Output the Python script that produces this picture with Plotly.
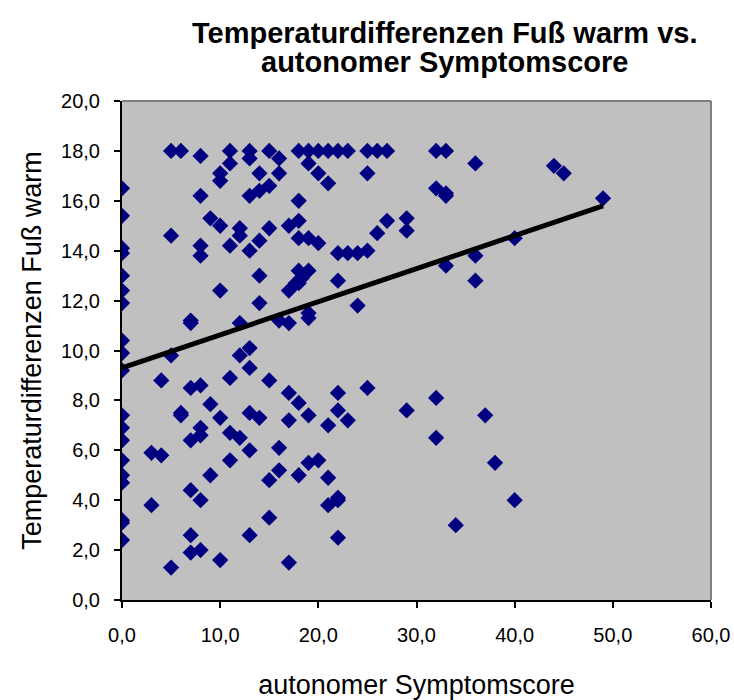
import plotly.graph_objects as go

# autonomer Symptomscore (x) and Temperaturdifferenzen Fuß warm (y)
score = (
    [0]*19 + [3]*2 + [4]*2 + [5]*4 + [6]*3 + [7]*7 + [8]*9 + [9]*3 + [10]*6 +
    [11]*6 + [12]*5 + [13]*9 + [14]*6 + [15]*6 + [16]*5 + [17]*6 + [18]*8 +
    [18.3, 17.7] + [19]*8 + [20]*4 + [21]*5 + [22]*8 + [23]*3 + [24]*2 +
    [25]*4 + [26]*2 + [27]*2 + [29]*3 + [32]*4 + [33]*4 + [34] + [36]*3 +
    [37] + [38] + [40]*2 + [44] + [45] + [49]
)
temp_diff = (
    [16.5, 15.4, 14.1, 13.9, 13.0, 12.4, 11.9, 10.4, 9.9, 9.2, 7.4, 6.9, 6.4, 5.6, 5.0, 4.7, 3.2, 3.1, 2.4]
    + [5.9, 3.8]
    + [8.8, 5.8]
    + [18.0, 14.6, 9.8, 1.3]
    + [18.0, 7.5, 7.4]
    + [11.2, 11.1, 8.5, 6.4, 4.4, 2.6, 1.9]
    + [17.8, 16.2, 14.2, 13.8, 8.6, 6.9, 6.6, 4.0, 2.0]
    + [15.3, 7.85, 5.0]
    + [17.1, 16.8, 15.0, 12.4, 7.3, 1.6]
    + [18.0, 17.5, 14.2, 8.9, 6.7, 5.6]
    + [14.9, 14.6, 11.1, 9.8, 6.5]
    + [18.0, 17.7, 16.2, 14.0, 10.1, 9.3, 7.5, 6.0, 2.6]
    + [17.1, 16.4, 14.4, 13.0, 11.9, 7.3]
    + [18.0, 16.6, 14.9, 8.8, 4.8, 3.3]
    + [17.7, 17.1, 11.2, 6.1, 5.2]
    + [15.0, 12.4, 11.1, 8.3, 7.2, 1.5]
    + [18.0, 16.0, 15.2, 14.5, 13.2, 7.9, 5.0, 12.7]
    + [12.9, 12.7]
    + [18.0, 17.5, 14.5, 13.2, 11.5, 11.3, 7.4, 5.5]
    + [18.0, 17.1, 14.3, 5.6]
    + [18.0, 16.7, 7.0, 4.9, 3.8]
    + [18.0, 13.9, 12.8, 8.3, 7.6, 4.1, 4.0, 2.5]
    + [18.0, 13.9, 7.2]
    + [13.9, 11.8]
    + [18.0, 17.1, 14.0, 8.5]
    + [18.0, 14.7]
    + [18.0, 15.2]
    + [15.3, 14.8, 7.6]
    + [18.0, 16.5, 8.1, 6.5]
    + [18.0, 16.3, 16.2, 13.4]
    + [3.0]
    + [17.5, 13.8, 12.8]
    + [7.4]
    + [5.5]
    + [14.5, 4.0]
    + [17.4]
    + [17.1]
    + [16.1]
)

# linear trend line endpoints
trend_x = [0, 49]
trend_y = [9.3, 15.8]

x_ticks = [0, 10, 20, 30, 40, 50, 60]
y_ticks = [0, 2, 4, 6, 8, 10, 12, 14, 16, 18, 20]

title_lines = ["Temperaturdifferenzen Fuß warm vs.", "autonomer Symptomscore"]

FONT = "Arial, Liberation Sans, sans-serif"

fig = go.Figure()
fig.add_trace(go.Scatter(
    x=score, y=temp_diff, mode="markers",
    marker=dict(symbol="diamond", size=12.5, color="#000080", line=dict(width=0)),
    showlegend=False, hoverinfo="x+y",
))
fig.add_trace(go.Scatter(
    x=trend_x, y=trend_y, mode="lines",
    line=dict(color="black", width=5),
    showlegend=False, hoverinfo="skip",
))

annotations = []
for i, (line, ypos) in enumerate(zip(title_lines, [1.136, 1.078])):
    annotations.append(dict(
        text="<b>" + line + "</b>", xref="paper", yref="paper",
        x=0.548, y=ypos, xanchor="center", yanchor="middle", showarrow=False,
        font=dict(family=FONT, size=29, color="black"),
    ))

fig.update_layout(
    width=734, height=700,
    margin=dict(l=122, r=23, t=101, b=100, autoexpand=False),
    paper_bgcolor="white", plot_bgcolor="#C0C0C0",
    separators=",.",
    font=dict(family=FONT, color="black", size=20),
    annotations=annotations,
    xaxis=dict(
        range=[0, 60], tickvals=x_ticks, tickformat=".1f",
        showgrid=False, zeroline=False, automargin=False,
        showline=True, linecolor="black", linewidth=2,
        ticks="outside", ticklen=6, tickcolor="black", tickwidth=1.5,
        tickfont=dict(size=20), ticklabelstandoff=10,
        title=dict(text="autonomer Symptomscore", font=dict(size=27), standoff=30),
    ),
    yaxis=dict(
        range=[0, 20], tickvals=y_ticks, tickformat=".1f",
        showgrid=False, zeroline=False, automargin=False,
        showline=True, linecolor="black", linewidth=2,
        ticks="outside", ticklen=6, tickcolor="black", tickwidth=1.5,
        tickfont=dict(size=20), ticklabelstandoff=10,
        title=dict(text="Temperaturdifferenzen Fuß warm", font=dict(size=27), standoff=12),
    ),
    shapes=[
        dict(type="line", xref="paper", yref="paper", x0=0, x1=1, y0=1, y1=1,
             line=dict(color="#808080", width=2)),
        dict(type="line", xref="paper", yref="paper", x0=1, x1=1, y0=0, y1=1,
             line=dict(color="#808080", width=2)),
    ],
)

fig.write_html(
    "out.html",
    config={"displayModeBar": False},
    post_script="document.body.style.margin='0';document.body.style.overflow='hidden';",
)
